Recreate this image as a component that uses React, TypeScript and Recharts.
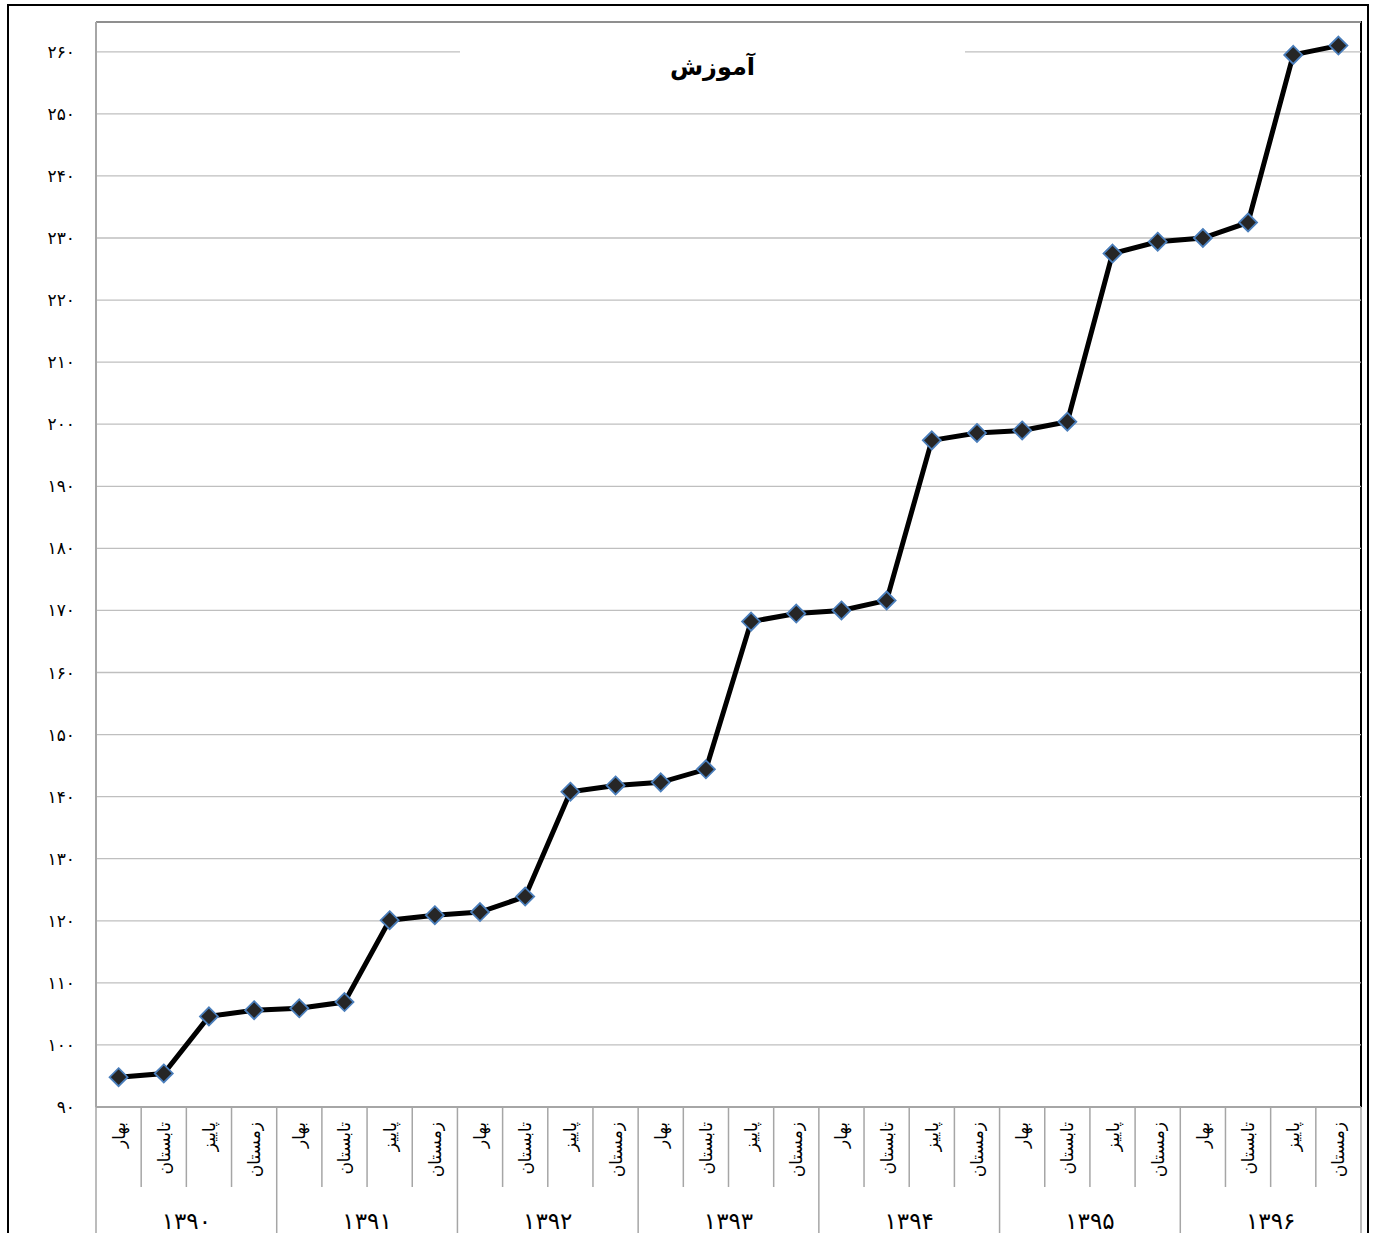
import React from 'react';
import { LineChart, Line, XAxis, YAxis, CartesianGrid } from 'recharts';

const years = ['۱۳۹۰', '۱۳۹۱', '۱۳۹۲', '۱۳۹۳', '۱۳۹۴', '۱۳۹۵', '۱۳۹۶'];
const seasons = ['بهار', 'تابستان', 'پاییز', 'زمستان'];
const values = [
  94.8, 95.4, 104.6, 105.6,
  105.9, 106.9, 120.1, 120.9,
  121.4, 123.9, 140.8, 141.8,
  142.3, 144.4, 168.2, 169.5,
  170.0, 171.6, 197.4, 198.6,
  199.0, 200.4, 227.5, 229.4,
  230.0, 232.5, 259.5, 261.0,
];
const yTicks = [90, 100, 110, 120, 130, 140, 150, 160, 170, 180, 190, 200, 210, 220, 230, 240, 250, 260];
const title = 'آموزش';

const data = values.map((v, i) => ({
  id: `${years[Math.floor(i / 4)]}-${i}`,
  season: seasons[i % 4],
  year: years[Math.floor(i / 4)],
  value: v,
}));

const W = 1375;
const H = 1233;
const PLOT_L = 96;
const PLOT_R = 1361;
const PLOT_T = 22;
const X_AXIS_H = 126;
const PLOT_B = H - X_AXIS_H;
const BW = (PLOT_R - PLOT_L) / values.length;
const FONT = '"DejaVu Sans", sans-serif';

const toFa = (s: string) => s.replace(/[0-9]/g, (d) => '۰۱۲۳۴۵۶۷۸۹'[Number(d)]);

const YTick = (props: any) => {
  const { y, payload } = props;
  return (
    <text x={75} y={y + 6} textAnchor="end" fontFamily={FONT} fontSize={17} fill="#000">
      {toFa(String(payload.value))}
    </text>
  );
};

const XTick = (props: any) => {
  const { x, payload } = props;
  const i = payload.index;
  const d = data[i];
  const left = x - BW / 2;
  const right = x + BW / 2;
  const px = x + 6;
  const py = PLOT_B + 15;
  return (
    <g>
      <line x1={left} y1={PLOT_B} x2={left} y2={i % 4 === 0 ? H : PLOT_B + 80} stroke="#A6A6A6" strokeWidth={1.5} />
      {i === values.length - 1 && (
        <line x1={right} y1={PLOT_B} x2={right} y2={H} stroke="#A6A6A6" strokeWidth={1.5} />
      )}
      <text
        x={px}
        y={py}
        transform={`rotate(-90 ${px} ${py})`}
        textAnchor="end"
        fontFamily={FONT}
        fontSize={17}
        fill="#000"
      >
        {d.season}
      </text>
      {i % 4 === 1 && (
        <text x={right} y={PLOT_B + 122} textAnchor="middle" fontFamily={FONT} fontSize={23} fill="#000">
          {d.year}
        </text>
      )}
    </g>
  );
};

const Diamond = (props: any) => {
  const { cx, cy, index } = props;
  if (cx == null || cy == null) return null;
  const r = 9;
  return (
    <path
      key={`d-${index}`}
      d={`M${cx},${cy - r}L${cx + r},${cy}L${cx},${cy + r}L${cx - r},${cy}Z`}
      fill="#262626"
      stroke="#4A7EBB"
      strokeWidth={1.8}
    />
  );
};

export default function App() {
  return (
    <div style={{ position: 'absolute', left: 0, top: 0, width: W, height: H, overflow: 'hidden', background: '#fff' }}>
      <div style={{ position: 'absolute', left: 7, top: 4, width: 1358, height: 1260, border: '2px solid #000' }} />
      <div style={{ position: 'absolute', left: PLOT_L, top: PLOT_T - 1, width: PLOT_R - PLOT_L + 1, height: 2, background: '#000' }} />
      <div style={{ position: 'absolute', left: PLOT_R - 1, top: PLOT_T - 1, width: 2, height: PLOT_B - PLOT_T + 1, background: '#000' }} />
      <div style={{ position: 'absolute', left: 0, top: 0 }}>
        <LineChart width={W} height={H} data={data} margin={{ top: PLOT_T, right: W - PLOT_R, bottom: 0, left: 0 }}>
          <CartesianGrid vertical={false} stroke="#BFBFBF" strokeWidth={1.3} />
          <XAxis
            dataKey="id"
            type="category"
            interval={0}
            height={X_AXIS_H}
            padding={{ left: BW / 2, right: BW / 2 }}
            axisLine={{ stroke: '#A6A6A6', strokeWidth: 2 }}
            tickLine={false}
            tick={XTick}
          />
          <YAxis
            width={PLOT_L}
            domain={[90, 264.8]}
            ticks={yTicks}
            allowDataOverflow
            axisLine={{ stroke: '#A6A6A6', strokeWidth: 2 }}
            tickLine={false}
            tick={YTick}
          />
          <Line
            type="linear"
            dataKey="value"
            stroke="#000"
            strokeWidth={5}
            dot={Diamond}
            activeDot={false}
            isAnimationActive={false}
          />
        </LineChart>
      </div>
      <div
        style={{
          position: 'absolute',
          left: 460,
          top: 44,
          width: 505,
          height: 46,
          background: '#fff',
          textAlign: 'center',
          fontFamily: FONT,
          fontWeight: 'bold',
          fontSize: 24,
          lineHeight: '46px',
          direction: 'rtl',
          color: '#000',
        }}
      >
        {title}
      </div>
    </div>
  );
}
